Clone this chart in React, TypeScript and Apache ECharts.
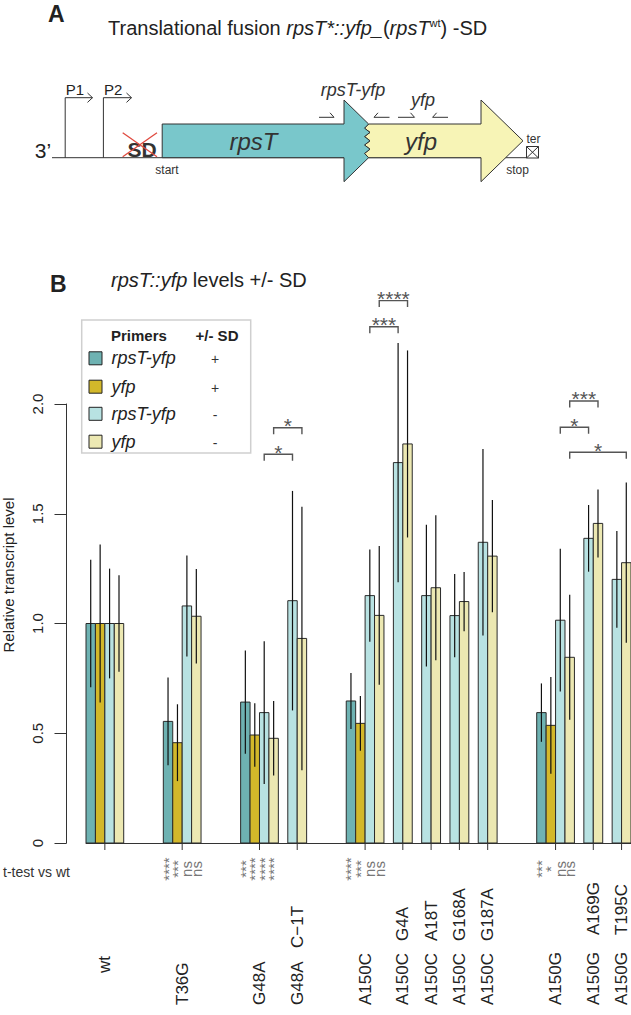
import React, { useEffect, useRef } from "react";
import * as echarts from "echarts";

const FONT = "'Liberation Sans', Arial, Helvetica, sans-serif";

// ---------- data ----------
const groups = ["wt", "T36G", "G48A", "G48A C−1T", "A150C", "A150C G4A", "A150C A18T", "A150C G168A", "A150C G187A", "A150G", "A150G A169G", "A150G T195C"];
const clusterOf = [0, 1, 2, 2, 3, 3, 3, 3, 3, 4, 4, 4];

const seriesNames = ["rpsT-yfp +SD", "yfp +SD", "rpsT-yfp -SD", "yfp -SD"];
const legendPrimers = ["rpsT-yfp", "yfp", "rpsT-yfp", "yfp"];
const legendSD = ["+", "+", "-", "-"];

const tealVals = [1.0, 0.554, 0.642, null, 0.647, null, null, null, null, 0.594, null, null];
const tealSD = [0.29, 0.2, 0.235, null, 0.128, null, null, null, null, 0.133, null, null];
const goldVals = [1.0, 0.457, 0.492, null, 0.545, null, null, null, null, 0.536, null, null];
const goldSD = [0.36, 0.175, 0.145, null, 0.125, null, null, null, null, 0.22, null, null];
const cyanVals = [1.0, 1.08, 0.594, 1.104, 1.127, 1.733, 1.127, 1.036, 1.37, 1.015, 1.388, 1.201];
const cyanSD = [0.25, 0.23, 0.325, 0.5, 0.21, 0.545, 0.323, 0.19, 0.425, 0.325, 0.152, 0.22];
const yellowVals = [1.0, 1.033, 0.477, 0.932, 1.037, 1.818, 1.163, 1.1, 1.307, 0.846, 1.456, 1.277];
const yellowSD = [0.22, 0.215, 0.17, 0.6, 0.316, 0.426, 0.33, 0.135, 0.256, 0.285, 0.155, 0.365];

// t-test vs wt labels, one per bar of the group (series order)
const ttestLabels: string[][] = [[], ["****", "***", "ns", "ns"], ["***", "****", "****", "****"], [], ["****", "***", "ns", "ns"], [], [], [], [], ["***", "*", "ns", "ns"], [], []];

// brackets: [groupA, seriesA, groupB, seriesB, height, label]
const brackets: [number, number, number, number, number, string][] = [
  [2, 2, 3, 2, 1.771, "*"],
  [2, 3, 3, 3, 1.892, "*"],
  [4, 2, 5, 2, 2.352, "***"],
  [4, 3, 5, 3, 2.471, "****"],
  [9, 2, 10, 2, 1.894, "*"],
  [9, 3, 10, 3, 2.014, "***"],
  [9, 3, 11, 3, 1.78, "*"],
];

const yTicks = [0, 0.5, 1.0, 1.5, 2.0];

// ---------- styles ----------
const COLORS = ["#6eb2b2", "#d3b82a", "#b8e2e2", "#ece8b2"];
const SMALL_GAP = 1;
const BIG_GAP = 4.2;

function layout() {
  const vals = [tealVals, goldVals, cyanVals, yellowVals];
  const sds = [tealSD, goldSD, cyanSD, yellowSD];
  const bars: { g: number; s: number; x0: number; x1: number; v: number; sd: number }[] = [];
  const centers: number[] = [];
  let cursor = 0;
  groups.forEach((_, g) => {
    if (g > 0) cursor += clusterOf[g] === clusterOf[g - 1] ? SMALL_GAP : BIG_GAP;
    const start = cursor;
    for (let s = 0; s < 4; s++) {
      const v = vals[s][g];
      if (v === null || v === undefined) continue;
      bars.push({ g, s, x0: cursor, x1: cursor + 1, v, sd: sds[s][g] as number });
      cursor += 1;
    }
    centers.push((start + cursor) / 2);
  });
  return { bars, centers, total: cursor };
}

export default function App() {
  const ref = useRef<HTMLDivElement>(null);
  useEffect(() => {
    if (!ref.current) return;
    const chart = echarts.init(ref.current, undefined, { renderer: "svg" });
    const { bars, centers, total } = layout();
    const findBar = (g: number, s: number) => bars.find((b) => b.g === g && b.s === s)!;

    const sigItems: { x: number; label: string }[] = [];
    groups.forEach((_, g) => {
      const lbls = ttestLabels[g];
      const gb = bars.filter((b) => b.g === g);
      lbls.forEach((l, i) => {
        if (gb[i]) sigItems.push({ x: (gb[i].x0 + gb[i].x1) / 2, label: l });
      });
    });

    const bracketItems = brackets.map(([ga, sa, gb, sb, h, lab]) => {
      const a = findBar(ga, sa);
      const b = findBar(gb, sb);
      return { xa: (a.x0 + a.x1) / 2, xb: (b.x0 + b.x1) / 2, h, lab };
    });

    // label layout: pixel y of text start (bottom) for first token & second token per cluster
    const firstBottom = (g: number) => (groups[g] === "wt" ? 973 : 1005);
    const secondBottomByCluster = [0, 0, 948, 941, 935];

    const textStyle = (extra: any) => ({ fontFamily: FONT, ...extra });

    const graphics: any[] = [];
    // Panel labels / titles
    graphics.push({ type: "text", x: 48, y: 14, style: textStyle({ text: "A", fontSize: 23, fontWeight: "bold", fill: "#222", verticalAlign: "middle" }) });
    graphics.push({
      type: "text", x: 108, y: 28,
      style: textStyle({
        text: "Translational fusion {i|rpsT*::yfp_}({i|rpsT}{s|wt}) -SD",
        fontSize: 20, fill: "#222", verticalAlign: "middle",
        rich: {
          i: { fontStyle: "italic", fontSize: 20, fontFamily: FONT, fill: "#222" },
          s: { fontSize: 11, fontFamily: FONT, fill: "#222", verticalAlign: "top", padding: [0, 0, 10, 0] },
        },
      }),
    });
    graphics.push({ type: "text", x: 50, y: 284, style: textStyle({ text: "B", fontSize: 23, fontWeight: "bold", fill: "#222", verticalAlign: "middle" }) });
    graphics.push({
      type: "text", x: 111, y: 280,
      style: textStyle({
        text: "{i|rpsT::yfp} levels +/- SD", fontSize: 20, fill: "#222", verticalAlign: "middle",
        rich: { i: { fontStyle: "italic", fontSize: 20, fontFamily: FONT, fill: "#222" } },
      }),
    });

    // Diagram
    const LC = "#333";
    const zig: number[][] = [[368.6, 124], [364.5, 128.2], [370, 132.4], [364.5, 136.6], [370, 140.8], [364.5, 145], [370, 149.2], [364.5, 153.4], [368.6, 157.7]];
    graphics.push({ type: "line", shape: { x1: 52, y1: 157.7, x2: 526, y2: 157.7 }, style: { stroke: LC, lineWidth: 1 } });
    graphics.push({
      type: "polygon",
      shape: { points: [...zig, [481, 157.7], [481, 181.7], [523, 140.8], [481, 100], [481, 124]] },
      style: { fill: "#f7f4b6", stroke: LC, lineWidth: 1 },
    });
    graphics.push({
      type: "polygon",
      shape: { points: [[162.2, 124], [344, 124], [344, 100], ...zig, [344, 181.7], [344, 157.7], [162.2, 157.7]] },
      style: { fill: "#79c7cb", stroke: LC, lineWidth: 1 },
    });
    // promoters
    [[65.2, 92.5], [103.4, 131.5]].forEach(([x, xe], i) => {
      graphics.push({ type: "polyline", shape: { points: [[x, 157.7], [x, 97.7], [xe, 97.7]] }, style: { stroke: LC, lineWidth: 1, fill: null } });
      graphics.push({ type: "polyline", shape: { points: [[xe - 5, 93], [xe, 97.7], [xe - 5, 102.4]] }, style: { stroke: LC, lineWidth: 1, fill: null } });
      graphics.push({ type: "text", x: x + 0.5, y: 89, style: textStyle({ text: "P" + (i + 1), fontSize: 15, fill: "#222", verticalAlign: "middle" }) });
    });
    graphics.push({ type: "text", x: 43, y: 150, style: textStyle({ text: "3’", fontSize: 21, fill: "#222", align: "center", verticalAlign: "middle" }) });
    graphics.push({ type: "text", x: 142, y: 149, style: textStyle({ text: "SD", fontSize: 21, fontWeight: "bold", fill: "#333", align: "center", verticalAlign: "middle" }) });
    graphics.push({ type: "line", shape: { x1: 122.7, y1: 132.7, x2: 157, y2: 156.7 }, style: { stroke: "#e04a3f", lineWidth: 1.3 } });
    graphics.push({ type: "line", shape: { x1: 122.7, y1: 156.7, x2: 157, y2: 132.7 }, style: { stroke: "#e04a3f", lineWidth: 1.3 } });
    graphics.push({ type: "text", x: 253.5, y: 141, style: textStyle({ text: "rpsT", fontSize: 24, fontStyle: "italic", fill: "#333", align: "center", verticalAlign: "middle" }) });
    graphics.push({ type: "text", x: 421, y: 141, style: textStyle({ text: "yfp", fontSize: 24, fontStyle: "italic", fill: "#333", align: "center", verticalAlign: "middle" }) });
    graphics.push({ type: "text", x: 167, y: 170, style: textStyle({ text: "start", fontSize: 12, fill: "#333", align: "center", verticalAlign: "middle" }) });
    graphics.push({ type: "text", x: 517.5, y: 170, style: textStyle({ text: "stop", fontSize: 12, fill: "#333", align: "center", verticalAlign: "middle" }) });
    graphics.push({ type: "text", x: 533.5, y: 139, style: textStyle({ text: "ter", fontSize: 12, fill: "#333", align: "center", verticalAlign: "middle" }) });
    graphics.push({ type: "rect", shape: { x: 526.5, y: 146.5, width: 12, height: 11.5 }, style: { fill: "#fff", stroke: LC, lineWidth: 1 } });
    graphics.push({ type: "line", shape: { x1: 526.5, y1: 146.5, x2: 538.5, y2: 158 }, style: { stroke: LC, lineWidth: 1 } });
    graphics.push({ type: "line", shape: { x1: 526.5, y1: 158, x2: 538.5, y2: 146.5 }, style: { stroke: LC, lineWidth: 1 } });
    // primers
    const PY = 117.3;
    [[319, 334, 1], [374, 389.5, -1], [398, 414.5, 1], [432.6, 448, -1]].forEach(([a, b, d]) => {
      const tip = d > 0 ? b : a;
      graphics.push({ type: "polyline", shape: { points: [[a, PY], [b, PY]] }, style: { stroke: LC, lineWidth: 1, fill: null } });
      graphics.push({ type: "line", shape: { x1: tip, y1: PY, x2: tip - d * 4, y2: PY - 4.5 }, style: { stroke: LC, lineWidth: 1 } });
    });
    graphics.push({ type: "text", x: 353, y: 90, style: textStyle({ text: "rpsT-yfp", fontSize: 18, fontStyle: "italic", fill: "#333", align: "center", verticalAlign: "middle" }) });
    graphics.push({ type: "text", x: 423, y: 100, style: textStyle({ text: "yfp", fontSize: 18, fontStyle: "italic", fill: "#333", align: "center", verticalAlign: "middle" }) });

    // legend
    graphics.push({ type: "rect", shape: { x: 81.7, y: 320, width: 169, height: 133 }, style: { fill: "#fff", stroke: "#cfcfcf", lineWidth: 1.5 }, z: 10 });
    graphics.push({ type: "text", x: 111, y: 335, z: 11, style: textStyle({ text: "Primers", fontSize: 15, fontWeight: "bold", fill: "#222", verticalAlign: "middle" }) });
    graphics.push({ type: "text", x: 217, y: 335, z: 11, style: textStyle({ text: "+/- SD", fontSize: 15, fontWeight: "bold", fill: "#222", align: "center", verticalAlign: "middle" }) });
    const rowY = [358.3, 386.7, 413.8, 441.7];
    legendPrimers.forEach((p, i) => {
      graphics.push({ type: "rect", z: 11, shape: { x: 89, y: rowY[i] - 6.5, width: 13, height: 13 }, style: { fill: COLORS[i], stroke: "#222", lineWidth: 1 } });
      graphics.push({ type: "text", x: 111.5, y: rowY[i], z: 11, style: textStyle({ text: p, fontSize: 18, fontStyle: "italic", fill: "#222", verticalAlign: "middle" }) });
      graphics.push({ type: "text", x: 215, y: rowY[i] + 1, z: 11, style: textStyle({ text: legendSD[i], fontSize: 14, fill: "#333", align: "center", verticalAlign: "middle" }) });
    });

    // y-axis title and t-test title
    graphics.push({ type: "text", x: 8, y: 575, rotation: Math.PI / 2, style: textStyle({ text: "Relative transcript level", fontSize: 15, fill: "#222", align: "center", verticalAlign: "middle" }) });
    graphics.push({ type: "text", x: 3, y: 872, style: textStyle({ text: "t-test vs wt", fontSize: 14, fill: "#333", verticalAlign: "middle" }) });

    const option: any = {
      animation: false,
      backgroundColor: "#fff",
      grid: [
        { left: 66.5, width: 2, top: 404, bottom: 172, containLabel: false },
        { left: 86, right: 0, top: 404, bottom: 172, containLabel: false },
      ],
      xAxis: [
        { gridIndex: 0, type: "value", min: 0, max: 1, show: false },
        {
          gridIndex: 1, type: "value", min: 0, max: total,
          axisLine: { show: true, onZero: false, lineStyle: { color: "#333", width: 1 } },
          axisTick: { show: false }, axisLabel: { show: false }, splitLine: { show: false },
        },
      ],
      yAxis: [
        {
          gridIndex: 0, type: "value", min: yTicks[0], max: yTicks[yTicks.length - 1], interval: 0.5,
          axisLine: { show: true, lineStyle: { color: "#333", width: 1 } },
          axisTick: { show: true, length: 12, lineStyle: { color: "#333", width: 1 } },
          axisLabel: {
            rotate: 90, margin: 22, fontSize: 15, color: "#222", fontFamily: FONT,
            formatter: (v: number) => (v === 0 ? "0" : v.toFixed(1)),
          },
          splitLine: { show: false },
        },
        { gridIndex: 1, type: "value", min: yTicks[0], max: yTicks[yTicks.length - 1], show: false, splitLine: { show: false } },
      ],
      graphic: graphics,
      series: [
        {
          type: "custom", name: "bars", clip: false, silent: true, xAxisIndex: 1, yAxisIndex: 1,
          data: bars.map((b) => [b.x0, b.x1, b.v, b.sd, b.s]),
          encode: { x: [0, 1], y: 2 },
          renderItem: (params: any, api: any) => {
            const x0 = api.value(0), x1 = api.value(1), v = api.value(2), sd = api.value(3), s = api.value(4);
            const tl = api.coord([x0, v]);
            const br = api.coord([x1, 0]);
            const xc = (x0 + x1) / 2;
            const et = api.coord([xc, v + sd]);
            const eb = api.coord([xc, v - sd]);
            return {
              type: "group",
              children: [
                { type: "rect", shape: { x: tl[0], y: tl[1], width: br[0] - tl[0], height: br[1] - tl[1] }, style: { fill: COLORS[s], stroke: "#2a2a2a", lineWidth: 1 } },
                { type: "line", shape: { x1: et[0], y1: et[1], x2: eb[0], y2: eb[1] }, style: { stroke: "#111", lineWidth: 1.2 } },
              ],
            };
          },
        },
        {
          type: "custom", name: "ticks", clip: false, silent: true, xAxisIndex: 1, yAxisIndex: 1,
          data: centers.map((c) => [c, 0]),
          encode: { x: 0, y: 1 },
          renderItem: (params: any, api: any) => {
            const p = api.coord([api.value(0), 0]);
            return { type: "line", shape: { x1: p[0], y1: p[1], x2: p[0], y2: p[1] + 7 }, style: { stroke: "#333", lineWidth: 1 } };
          },
        },
        {
          type: "custom", name: "groupLabels", clip: false, silent: true, xAxisIndex: 1, yAxisIndex: 1,
          data: centers.map((c) => [c, 0]),
          encode: { x: 0, y: 1 },
          renderItem: (params: any, api: any) => {
            const g = params.dataIndex;
            const p = api.coord([api.value(0), 0]);
            const parts = groups[g].split(" ");
            const children: any[] = [
              { type: "text", x: p[0], y: firstBottom(g), rotation: Math.PI / 2, style: { text: parts[0], font: `17px ${FONT}`, fill: "#222", align: "left", verticalAlign: "middle" } },
            ];
            if (parts[1]) {
              children.push({ type: "text", x: p[0], y: secondBottomByCluster[clusterOf[g]], rotation: Math.PI / 2, style: { text: parts[1], font: `17px ${FONT}`, fill: "#222", align: "left", verticalAlign: "middle" } });
            }
            return { type: "group", children };
          },
        },
        {
          type: "custom", name: "ttest", clip: false, silent: true, xAxisIndex: 1, yAxisIndex: 1,
          data: sigItems.map((d) => [d.x, 0]),
          encode: { x: 0, y: 1 },
          renderItem: (params: any, api: any) => {
            const p = api.coord([api.value(0), 0]);
            return { type: "text", x: p[0], y: 869, rotation: Math.PI / 2, style: { text: sigItems[params.dataIndex].label, font: `15px ${FONT}`, fill: "#777", align: "center", verticalAlign: "middle" } };
          },
        },
        {
          type: "custom", name: "brackets", clip: false, silent: true, xAxisIndex: 1, yAxisIndex: 1,
          data: bracketItems.map((b) => [b.xa, b.xb, b.h]),
          encode: { x: [0, 1], y: 2 },
          renderItem: (params: any, api: any) => {
            const a = api.coord([api.value(0), api.value(2)]);
            const b = api.coord([api.value(1), api.value(2)]);
            return {
              type: "group",
              children: [
                { type: "polyline", shape: { points: [[a[0], a[1] + 6.5], [a[0], a[1]], [b[0], b[1]], [b[0], b[1] + 6.5]] }, style: { stroke: "#555", lineWidth: 1.4, fill: null } },
                { type: "text", x: (a[0] + b[0]) / 2, y: a[1] - 2, style: { text: bracketItems[params.dataIndex].lab, font: `21px ${FONT}`, fill: "#555", align: "center", verticalAlign: "middle" } },
              ],
            };
          },
        },
      ],
    };
    chart.setOption(option);
    return () => chart.dispose();
  }, []);
  return <div ref={ref} style={{ position: "fixed", left: 0, top: 0, width: 631, height: 1015, background: "#fff" }} />;
}
